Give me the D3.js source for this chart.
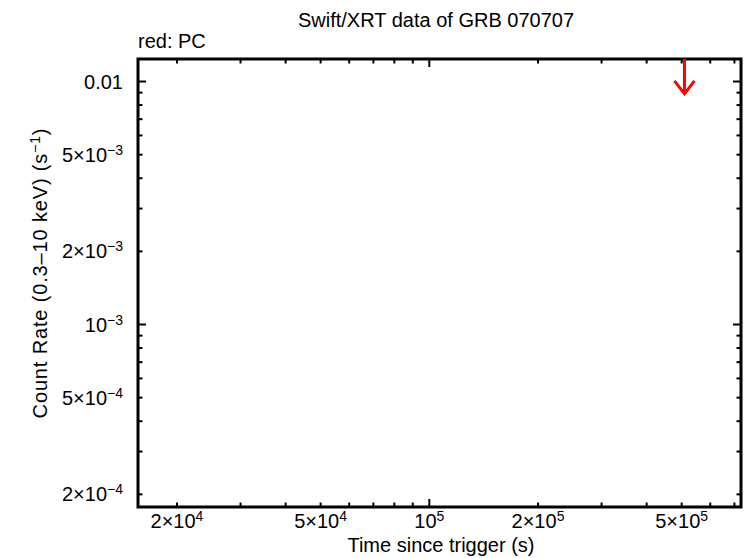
<!DOCTYPE html>
<html><head><meta charset="utf-8">
<script src="https://cdn.jsdelivr.net/npm/d3@7"></script>
<style>body{margin:0;background:#fff;} text{font-family:"Liberation Sans",Arial,Helvetica,sans-serif;fill:#000;}</style>
</head><body>
<svg id="c" width="746" height="558"></svg>
<script>
// Data
const title = "Swift/XRT data of GRB 070707";
const legendLabel = "red: PC";
const xLabel = "Time since trigger (s)";
const ulTime = [5.09e5];      // upper-limit time (s)
const ulRate = [0.0124];      // upper-limit count rate (s^-1)
const xDomain = [15600, 730000];
const yDomain = [1.774e-4, 0.01238];
const xTickVals = [2e4, 5e4, 1e5, 2e5, 5e5];
const xTickMant = ["2", "5", "", "2", "5"];
const xTickExp = ["4", "4", "5", "5", "5"];
const yTickVals = [0.01, 5e-3, 2e-3, 1e-3, 5e-4, 2e-4];
const yTickMant = ["", "5", "2", "", "5", "2"];
const yTickExp = ["", "\u22123", "\u22123", "\u22123", "\u22124", "\u22124"];

const svg = d3.select("#c");
const L = 138, R = 741, T = 59, B = 507;
const x = d3.scaleLog().domain(xDomain).range([L, R]);
const y = d3.scaleLog().domain(yDomain).range([B, T]);

function minorVals(dom) {
  const out = [];
  for (let e = Math.floor(Math.log10(dom[0])); e <= Math.ceil(Math.log10(dom[1])); e++)
    for (let k = 1; k <= 9; k++) { const v = k * Math.pow(10, e); if (v >= dom[0] && v <= dom[1]) out.push(v); }
  return out;
}
const isDecade = v => Math.abs(Math.log10(v) - Math.round(Math.log10(v))) < 1e-9;

const g = svg.append("g").attr("stroke", "#000").attr("stroke-width", 2);
minorVals(xDomain).forEach(v => {
  const len = isDecade(v) ? 8 : 4.5;
  g.append("line").attr("x1", x(v)).attr("x2", x(v)).attr("y1", B).attr("y2", B - len);
  g.append("line").attr("x1", x(v)).attr("x2", x(v)).attr("y1", T).attr("y2", T + len);
});
minorVals(yDomain).forEach(v => {
  const len = isDecade(v) ? 8 : 4.5;
  g.append("line").attr("y1", y(v)).attr("y2", y(v)).attr("x1", L).attr("x2", L + len);
  g.append("line").attr("y1", y(v)).attr("y2", y(v)).attr("x1", R).attr("x2", R - len);
});
svg.append("rect").attr("x", L).attr("y", T).attr("width", R - L).attr("height", B - T)
  .attr("fill", "none").attr("stroke", "#000").attr("stroke-width", 3);

const fs = 20, sfs = 14;
// x tick labels
xTickVals.forEach((v, i) => {
  const t = svg.append("text").attr("x", x(v)).attr("y", 528).attr("text-anchor", "middle").attr("font-size", fs);
  t.append("tspan").text(xTickMant[i] ? xTickMant[i] + "\u00d710" : "10");
  t.append("tspan").attr("dy", -7).attr("font-size", sfs).text(xTickExp[i]);
});
// y tick labels
yTickVals.forEach((v, i) => {
  const t = svg.append("text").attr("x", 123).attr("y", y(v) + 7).attr("text-anchor", "end").attr("font-size", fs);
  if (!yTickExp[i]) { t.text("0.01"); return; }
  t.append("tspan").text(yTickMant[i] ? yTickMant[i] + "\u00d710" : "10");
  t.append("tspan").attr("dy", -7).attr("font-size", sfs).text(yTickExp[i]);
});

svg.append("text").attr("x", 436).attr("y", 27).attr("text-anchor", "middle").attr("font-size", fs).text(title);
svg.append("text").attr("x", 138).attr("y", 48).attr("font-size", fs).text(legendLabel);
svg.append("text").attr("x", 441).attr("y", 552).attr("text-anchor", "middle").attr("font-size", fs).text(xLabel);
const yl = svg.append("text").attr("transform", "translate(47,273) rotate(-90)").attr("text-anchor", "middle")
  .attr("font-size", fs).attr("letter-spacing", 0.85);
yl.append("tspan").text("Count Rate (0.3\u201310 keV) (s");
yl.append("tspan").attr("dy", -7).attr("font-size", sfs).text("\u22121");
yl.append("tspan").attr("dy", 7).text(")");

// upper-limit arrows
const ul = svg.append("g").attr("stroke", "#ff0000").attr("stroke-width", 3).attr("fill", "none");
ulTime.forEach((t, i) => {
  const px = x(t), py = y(ulRate[i]), tip = py + 35;
  ul.append("line").attr("x1", px).attr("x2", px).attr("y1", py).attr("y2", tip);
  ul.append("path").attr("d", `M${px - 10},${tip - 13}L${px},${tip}L${px + 10},${tip - 13}`);
});
</script>
</body></html>
